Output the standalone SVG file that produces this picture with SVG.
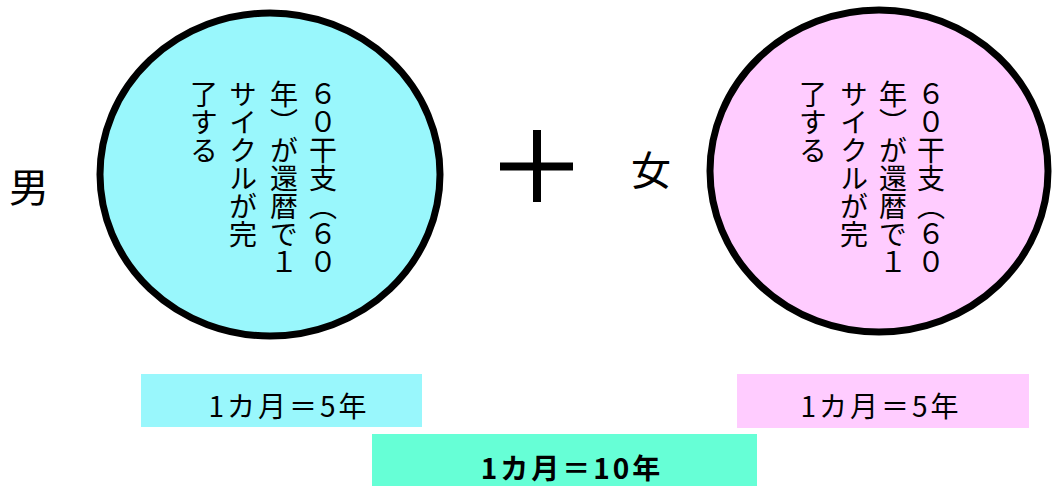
<svg xmlns="http://www.w3.org/2000/svg" width="1052" height="486" viewBox="0 0 1052 486">
<style>
.jp{font-family:"Noto Sans CJK JP","Noto Sans",sans-serif;fill:#000}
.circ{stroke:#000;stroke-width:7}
.vt{font-size:28px;writing-mode:vertical-rl}
.lbl{font-size:28px;letter-spacing:3px;text-anchor:middle;dominant-baseline:central}
</style>
<rect width="1052" height="486" fill="#fff"/>
<g id="label-man"><text class="jp" x="29" y="185" font-size="40" text-anchor="middle" dominant-baseline="central">男</text></g>
<g id="node-man">
<ellipse class="circ" cx="270" cy="174.5" rx="170" ry="161.5" fill="#99F7FC"/>
<text class="jp vt" x="323" y="80">６０干支（６０</text>
<text class="jp vt" x="284" y="80">年）が還暦で１</text>
<text class="jp vt" x="243" y="80">サイクルが完</text>
<text class="jp vt" x="204" y="80">了する</text>
</g>
<g id="plus"><path d="M537 130V202M500 166.5H573" stroke="#000" stroke-width="8" fill="none"/></g>
<g id="label-woman"><text class="jp" x="651" y="168" font-size="40" text-anchor="middle" dominant-baseline="central">女</text></g>
<g id="node-woman">
<ellipse class="circ" cx="879" cy="171" rx="169" ry="161" fill="#FFCCFF"/>
<text class="jp vt" x="931" y="80">６０干支（６０</text>
<text class="jp vt" x="893" y="80">年）が還暦で１</text>
<text class="jp vt" x="854" y="80">サイクルが完</text>
<text class="jp vt" x="813" y="80">了する</text>
</g>
<g id="box-man"><rect x="141" y="374" width="281" height="53" fill="#99F7FC"/><text class="jp lbl" x="289" y="405">1カ月＝5年</text></g>
<g id="box-woman"><rect x="737" y="374" width="292" height="54" fill="#FFCCFF"/><text class="jp lbl" x="881" y="405">1カ月＝5年</text></g>
<g id="box-total"><rect x="372" y="434" width="385" height="52" fill="#66FFD6"/><text class="jp lbl" x="572" y="467" font-weight="bold">1カ月＝10年</text></g>
</svg>
